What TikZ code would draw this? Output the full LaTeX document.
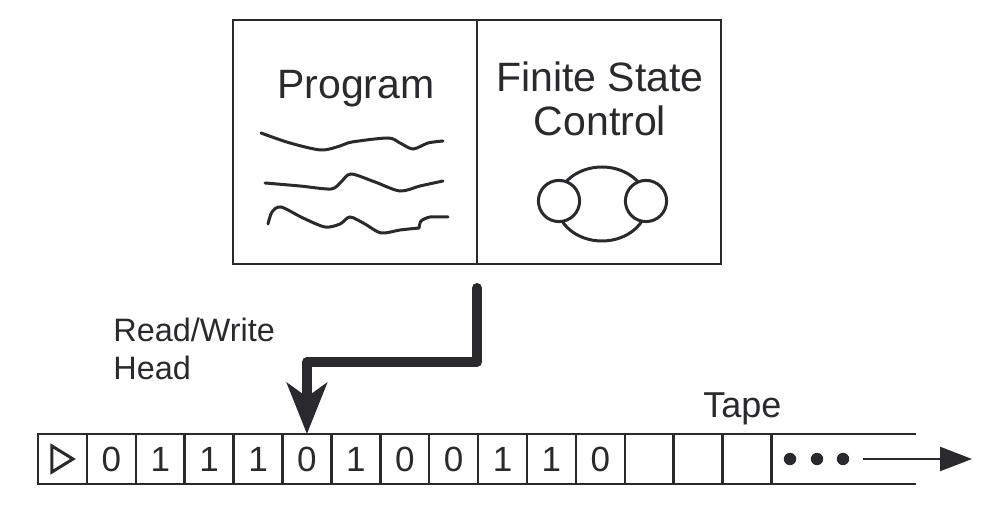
\documentclass[tikz,border=0pt]{standalone}
\usepackage{fontspec}
\setmainfont{Liberation Sans}
\usepackage{tikz}
\usetikzlibrary{arrows.meta,positioning}
\definecolor{ink}{HTML}{2A2A2E}

\begin{document}
\begin{tikzpicture}[x=0.5pt,y=-0.5pt,
  panel/.style={draw=ink,line width=1.3pt,minimum width=122pt,minimum height=122pt,outer sep=0pt,inner sep=0pt},
  lbl/.style={text=ink,inner sep=0pt,font=\fontsize{20.5}{22}\selectfont},
  small/.style={text=ink,inner sep=0pt,font=\fontsize{16.2}{19}\selectfont},
  cell/.style={draw=ink,line width=1.25pt,minimum width=24.45pt,minimum height=25pt,outer sep=0pt,inner sep=0pt,text=ink,font=\fontsize{17.5}{19}\selectfont},
  scrib/.style={ink,line width=1.5pt,line cap=round,smooth},
  rw/.style={ink,line width=5pt,line cap=round,line join=round,-{Stealth[length=25.5pt,width=20pt,inset=7pt]}},
  more/.style={ink,line width=1.2pt,-{Triangle[length=16pt,width=12pt]}}]
\useasboundingbox (0,0) rectangle (990,506);
% machine
\node[panel] (prog) at (355,142) {};
\node[panel,right=0pt of prog] (fsc) {};
\node[lbl,anchor=base] (progtxt) at (356,99) {Program};
\node[lbl,align=center,anchor=base] (fsctxt) at (600,136) {Finite State\\Control};
\draw[scrib] plot coordinates {(261,133) (290,143) (321,150) (340,146) (352,142) (388,138) (400,143) (413,149) (428,143) (443,141)};
\draw[scrib] plot coordinates {(265,183) (300,186) (331,189) (341,182) (351,174) (375,182) (400,191) (420,186) (443,181)};
\draw[scrib] plot coordinates {(268,224) (272,212) (281,207) (303,218) (325,227) (340,224) (350,217) (365,224) (381,233) (400,230) (419,228)};
\draw[scrib] plot[tension=0.4] coordinates {(419,228) (421,221) (430,217) (448,217)};
\draw[ink,line width=1.5pt] (602,204) ellipse[x radius=22.5pt,y radius=18.5pt];
\draw[ink,line width=1.5pt,fill=white] (559,201) circle[radius=10.3pt];
\draw[ink,line width=1.5pt,fill=white] (646,201) circle[radius=10.3pt];
% tape
\foreach \s [count=\i from 0] in {{},0,1,1,1,0,1,0,0,1,1,0,{},{},{}}
  \node[cell] (c\i) at (62.45+48.9*\i,459) {\s};
\draw[ink,line width=1.5pt,line join=miter] ([shift={(-10.5,-13)}]c0.center) -- ([shift={(10.5,0)}]c0.center) -- ([shift={(-10.5,13)}]c0.center) -- cycle;
\coordinate (tend) at (916,459);
\draw[ink,line width=1.25pt] (c14.north east) -- (c14.north east -| tend);
\draw[ink,line width=1.25pt] (c14.south east) -- (c14.south east -| tend);
\node[small,anchor=base west] (tapetxt) at (703,418) {\fontsize{18}{20}\selectfont Tape};
\foreach \x in {790,817,843}
  \fill[ink] (\x,459) circle[radius=3.1pt];
\coordinate (ar0) at (863,459);
\coordinate (ar1) at (972,459);
\draw[more] (ar0) -- (ar1);
% head
\node[small,align=left,anchor=base west] (rwtxt) at (113,380) {Read/Write\\Head};
\coordinate (hd) at ([yshift=-12pt]fsc.south west);
\draw[rw] (hd) -- ++(0,74) -| (c5.north);
\end{tikzpicture}
\end{document}
